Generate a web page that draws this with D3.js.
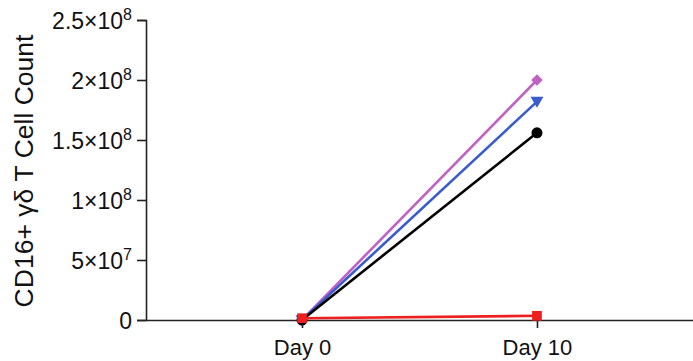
<!DOCTYPE html>
<html>
<head>
<meta charset="utf-8">
<script src="https://cdn.jsdelivr.net/npm/d3@7"></script>
<style>
  html, body { margin: 0; padding: 0; background: #fff; }
  svg { display: block; font-family: "Liberation Sans", Arial, sans-serif; }
</style>
</head>
<body>
<svg id="chart" width="693" height="361"></svg>
<script>
// Time points on the x axis
const days = ["Day 0", "Day 10"];

// CD16+ γδ T cell counts per donor
const seriesNames = ["Donor A", "Donor B", "Donor C", "Donor D"];
const donorA = [0, 2.0e8];
const donorB = [0, 1.82e8];
const donorC = [0, 1.56e8];
const donorD = [1.5e6, 3.5e6];

// y-axis tick values and their labels (mantissa, exponent)
const yTicks = [0, 5e7, 1e8, 1.5e8, 2e8, 2.5e8];
const yTickLabels = [["0", ""], ["5×10", "7"], ["1×10", "8"], ["1.5×10", "8"], ["2×10", "8"], ["2.5×10", "8"]];

const svg = d3.select("#chart");
const margin = { left: 146, right: 0, top: 20, bottom: 41 };
const W = 693, H = 361;
const FONT = "'Liberation Sans', Arial, sans-serif";

const x = d3.scalePoint().domain(days).range([margin.left, W - margin.right]).padding(0.664);
const y = d3.scaleLinear().domain([0, 2.5e8]).range([H - margin.bottom, margin.top]);

const series = [
  { name: seriesNames[0], values: donorA, color: "#c062c4", shape: d3.symbolDiamond2, size: 85 },
  { name: seriesNames[1], values: donorB, color: "#3a5ccc", shape: "triangleDown", size: 0 },
  { name: seriesNames[2], values: donorC, color: "#000000", shape: d3.symbolCircle, size: 95 },
  { name: seriesNames[3], values: donorD, color: "#ee1f1f", shape: d3.symbolSquare2, size: 120 }
];

// Axes
const yAxis = svg.append("g")
  .attr("transform", `translate(${margin.left},0)`)
  .call(d3.axisLeft(y).tickValues(yTicks).tickSize(9).tickPadding(4).tickFormat(""));
yAxis.select(".domain").attr("stroke", "#222").attr("stroke-width", 1.6);
yAxis.selectAll(".tick line").attr("stroke", "#222").attr("stroke-width", 1.6);
yAxis.selectAll(".tick").each(function(d, i) {
  const lab = yTickLabels[i];
  const t = d3.select(this).append("text")
    .attr("x", -14).attr("y", 8)
    .attr("text-anchor", "end").attr("fill", "#111")
    .attr("font-family", FONT)
    .attr("font-size", 23);
  t.append("tspan").text(lab[0]);
  if (lab[1]) {
    t.append("tspan").attr("dy", -9).attr("font-size", 16).text(lab[1]);
  }
});

const xAxis = svg.append("g")
  .attr("transform", `translate(0,${H - margin.bottom})`)
  .call(d3.axisBottom(x).tickSize(8).tickPadding(6).tickSizeOuter(0));
xAxis.select(".domain").attr("stroke", "#222").attr("stroke-width", 1.6);
xAxis.selectAll(".tick line").attr("stroke", "#222").attr("stroke-width", 1.6);
xAxis.selectAll(".tick text")
  .attr("fill", "#111")
  .attr("font-family", FONT)
  .attr("font-size", 22)
  .attr("dy", null)
  .attr("y", 35);

// Axis title
svg.append("text")
  .attr("transform", `translate(33,171) rotate(-90)`)
  .attr("text-anchor", "middle")
  .attr("fill", "#111")
  .attr("font-family", FONT)
  .attr("font-size", 26.5)
  .text("CD16+ γδ T Cell Count");

// Lines and markers
const line = d3.line().x((d, i) => x(days[i])).y(d => y(d));
const triangle = s => `M${-s},${-s * 0.75}L${s},${-s * 0.75}L0,${s * 0.95}Z`;

series.forEach(s => {
  const g = svg.append("g");
  g.append("path").datum(s.values)
    .attr("d", line).attr("fill", "none")
    .attr("stroke", s.color).attr("stroke-width", 2.6);
  g.selectAll("path.pt").data(s.values).join("path")
    .attr("class", "pt")
    .attr("transform", (d, i) => `translate(${x(days[i])},${y(d)})`)
    .attr("d", s.shape === "triangleDown" ? triangle(6.5) : d3.symbol(s.shape, s.size)())
    .attr("fill", s.color);
});
</script>
</body>
</html>
